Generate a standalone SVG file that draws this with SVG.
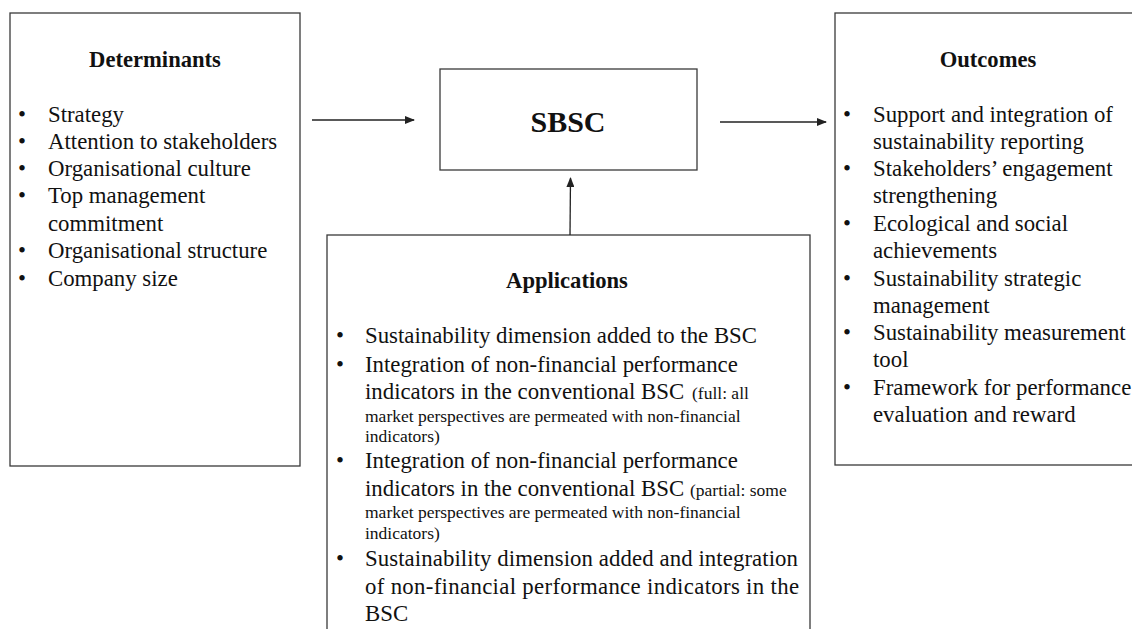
<svg xmlns="http://www.w3.org/2000/svg" width="1132" height="629" viewBox="0 0 1132 629">
<style>
.box{fill:#fff;stroke:#3a3a3a;stroke-width:1.3}
.t{font-family:"Liberation Serif","Times New Roman",serif;font-size:22.8px;fill:#111}
.h{font-family:"Liberation Serif","Times New Roman",serif;font-size:22.6px;font-weight:bold;fill:#111}
.s{font-size:17.5px}
.c{stroke:#222;stroke-width:1.3;fill:none}
</style>
<defs>
<marker id="ah" markerWidth="10" markerHeight="8" refX="9" refY="4" orient="auto" markerUnits="userSpaceOnUse">
<path d="M0,0 L10,4 L0,8 Z" fill="#222"/>
</marker>
</defs>
<rect width="1132" height="629" fill="#fff"/>
<g id="determinants">
<rect class="box" x="10" y="13" width="290" height="453"/>
<text class="h" x="155" y="67" text-anchor="middle">Determinants</text>
<g class="t">
<text x="18" y="122">•</text><text x="48" y="122">Strategy</text>
<text x="18" y="149">•</text><text x="48" y="149">Attention to stakeholders</text>
<text x="18" y="176">•</text><text x="48" y="176">Organisational culture</text>
<text x="18" y="203">•</text><text x="48" y="203">Top management</text>
<text x="48" y="231">commitment</text>
<text x="18" y="258">•</text><text x="48" y="258">Organisational structure</text>
<text x="18" y="286">•</text><text x="48" y="286">Company size</text>
</g>
</g>
<g id="sbsc">
<rect class="box" x="440" y="69" width="257" height="101"/>
<text class="h" x="568" y="132" text-anchor="middle" style="font-size:30px">SBSC</text>
</g>
<g id="outcomes">
<rect class="box" x="835" y="13" width="310" height="452"/>
<text class="h" x="988" y="67" text-anchor="middle">Outcomes</text>
<g class="t">
<text x="843" y="122">•</text><text x="873" y="122">Support and integration of</text>
<text x="873" y="149">sustainability reporting</text>
<text x="843" y="176">•</text><text x="873" y="176">Stakeholders’ engagement</text>
<text x="873" y="203">strengthening</text>
<text x="843" y="231">•</text><text x="873" y="231">Ecological and social</text>
<text x="873" y="258">achievements</text>
<text x="843" y="286">•</text><text x="873" y="286">Sustainability strategic</text>
<text x="873" y="313">management</text>
<text x="843" y="340">•</text><text x="873" y="340">Sustainability measurement</text>
<text x="873" y="367">tool</text>
<text x="843" y="395">•</text><text x="873" y="395">Framework for performance</text>
<text x="873" y="422">evaluation and reward</text>
</g>
</g>
<g id="applications">
<rect class="box" x="327" y="235" width="483" height="420"/>
<text class="h" x="567" y="288" text-anchor="middle">Applications</text>
<g class="t">
<text x="336" y="343">•</text><text x="365" y="343">Sustainability dimension added to the BSC</text>
<text x="336" y="372">•</text><text x="365" y="372">Integration of non-financial performance</text>
<text x="365" y="399">indicators in the conventional BSC</text><text class="s" x="692" y="399">(full:  all</text>
<text class="s" x="365" y="422">market perspectives are permeated with non-financial</text>
<text class="s" x="365" y="442">indicators)</text>
<text x="336" y="468">•</text><text x="365" y="468">Integration of non-financial performance</text>
<text x="365" y="496">indicators in the conventional BSC</text><text class="s" x="690" y="496">(partial:  some</text>
<text class="s" x="365" y="518">market perspectives are permeated with non-financial</text>
<text class="s" x="365" y="539">indicators)</text>
<text x="336" y="566">•</text><text x="365" y="566" textLength="433" lengthAdjust="spacing">Sustainability dimension added and integration</text>
<text x="365" y="594" textLength="434" lengthAdjust="spacing">of non-financial performance indicators in the</text>
<text x="365" y="621">BSC</text>
</g>
</g>
<g id="connectors">
<line class="c" x1="312" y1="120" x2="414" y2="120" marker-end="url(#ah)"/>
<line class="c" x1="720" y1="122" x2="826" y2="122" marker-end="url(#ah)"/>
<line class="c" x1="570" y1="235" x2="570.5" y2="178" marker-end="url(#ah)"/>
</g>
</svg>
